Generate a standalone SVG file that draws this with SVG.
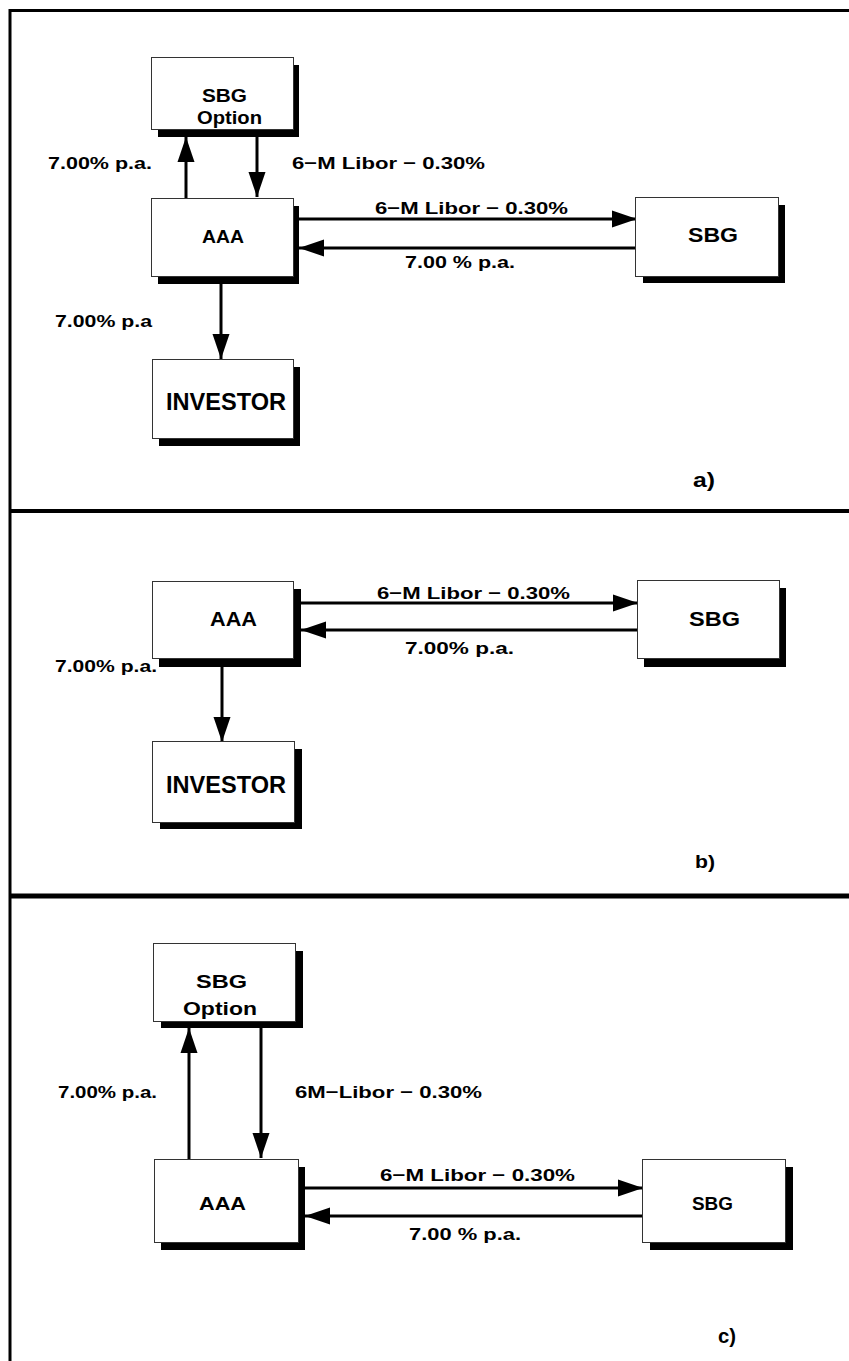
<svg xmlns="http://www.w3.org/2000/svg" width="849" height="1361" viewBox="0 0 849 1361">
<style>
.frame{stroke:#000;fill:none}
.box{fill:#fff;stroke:#333;stroke-width:1}
.sh{fill:#000}
.t{font-family:"Liberation Sans",Arial,Helvetica,sans-serif;font-weight:bold;fill:#000}
.lbl{font-size:17px}
.conn{stroke:#000;stroke-width:3;fill:none;marker-end:url(#ah)}
</style>
<defs>
<marker id="ah" markerUnits="userSpaceOnUse" markerWidth="26" markerHeight="20" viewBox="0 0 26 20" refX="25" refY="10" orient="auto">
<path d="M0,1.5 L25,10 L0,18.5 Z" fill="#000"/>
</marker>
</defs>
<rect width="849" height="1361" fill="#fff"/>
<g id="frame" class="frame">
<line x1="9" y1="10.5" x2="849" y2="10.5" stroke-width="3"/>
<line x1="10" y1="9" x2="10" y2="1361" stroke-width="3"/>
<line x1="9" y1="511" x2="849" y2="511" stroke-width="4"/>
<line x1="9" y1="896" x2="849" y2="896" stroke-width="5"/>
</g>
<g id="connectors">
<line class="conn" x1="186" y1="198" x2="186" y2="137"/>
<line class="conn" x1="257" y1="137" x2="257" y2="197"/>
<line class="conn" x1="299" y1="219" x2="637" y2="219"/>
<line class="conn" x1="635" y1="248" x2="299" y2="248"/>
<line class="conn" x1="221" y1="284" x2="221" y2="359"/>
<line class="conn" x1="301" y1="603" x2="638" y2="603"/>
<line class="conn" x1="637" y1="630" x2="301" y2="630"/>
<line class="conn" x1="222" y1="667" x2="222" y2="742"/>
<line class="conn" x1="189" y1="1159" x2="189" y2="1028"/>
<line class="conn" x1="261" y1="1028" x2="261" y2="1158"/>
<line class="conn" x1="305" y1="1188" x2="643" y2="1188"/>
<line class="conn" x1="642" y1="1216" x2="305" y2="1216"/>
</g>
<g id="labels" class="t lbl">
<text x="48" y="169" textLength="104" lengthAdjust="spacingAndGlyphs">7.00% p.a.</text>
<text x="292" y="169" textLength="193" lengthAdjust="spacingAndGlyphs">6−M Libor − 0.30%</text>
<text x="375" y="214" textLength="193" lengthAdjust="spacingAndGlyphs">6−M Libor − 0.30%</text>
<text x="405" y="268" textLength="110" lengthAdjust="spacingAndGlyphs">7.00 % p.a.</text>
<text x="55" y="327" textLength="97" lengthAdjust="spacingAndGlyphs">7.00% p.a</text>
<text x="693" y="487" font-size="21" textLength="22" lengthAdjust="spacingAndGlyphs">a)</text>
<text x="377" y="599" textLength="193" lengthAdjust="spacingAndGlyphs">6−M Libor − 0.30%</text>
<text x="405" y="654" textLength="109" lengthAdjust="spacingAndGlyphs">7.00% p.a.</text>
<text x="55" y="672" textLength="102" lengthAdjust="spacingAndGlyphs">7.00% p.a.</text>
<text x="695" y="868" font-size="19" textLength="20" lengthAdjust="spacingAndGlyphs">b)</text>
<text x="58" y="1098" textLength="99" lengthAdjust="spacingAndGlyphs">7.00% p.a.</text>
<text x="295" y="1098" textLength="187" lengthAdjust="spacingAndGlyphs">6M−Libor − 0.30%</text>
<text x="380" y="1181" textLength="195" lengthAdjust="spacingAndGlyphs">6−M Libor − 0.30%</text>
<text x="409" y="1240" textLength="112" lengthAdjust="spacingAndGlyphs">7.00 % p.a.</text>
<text x="718" y="1343" font-size="21" textLength="18" lengthAdjust="spacingAndGlyphs">c)</text>
</g>
<g id="a-sbg-option">
<rect class="sh" x="158" y="65" width="141" height="72"/>
<rect class="box" x="151.5" y="57.5" width="142" height="72"/>
<text class="t" x="202" y="102" font-size="18" textLength="45" lengthAdjust="spacingAndGlyphs">SBG</text>
<text class="t" x="197" y="124" font-size="18" textLength="65" lengthAdjust="spacingAndGlyphs">Option</text>
</g>
<g id="a-aaa">
<rect class="sh" x="158" y="206" width="141" height="78"/>
<rect class="box" x="151.5" y="198.5" width="142" height="78"/>
<text class="t" x="202" y="243" font-size="19" textLength="42" lengthAdjust="spacingAndGlyphs">AAA</text>
</g>
<g id="a-sbg">
<rect class="sh" x="643" y="205" width="142" height="78"/>
<rect class="box" x="635.5" y="197.5" width="143" height="79"/>
<text class="t" x="688" y="242" font-size="20" textLength="50" lengthAdjust="spacingAndGlyphs">SBG</text>
</g>
<g id="a-investor">
<rect class="sh" x="159" y="367" width="141" height="79"/>
<rect class="box" x="152.5" y="359.5" width="141" height="79"/>
<text class="t" x="166" y="410" font-size="24" textLength="120" lengthAdjust="spacingAndGlyphs">INVESTOR</text>
</g>
<g id="b-aaa">
<rect class="sh" x="159" y="589" width="142" height="78"/>
<rect class="box" x="152.5" y="581.5" width="141" height="77"/>
<text class="t" x="210" y="626" font-size="20" textLength="47" lengthAdjust="spacingAndGlyphs">AAA</text>
</g>
<g id="b-sbg">
<rect class="sh" x="644" y="588" width="142" height="79"/>
<rect class="box" x="637.5" y="580.5" width="142" height="78"/>
<text class="t" x="689" y="626" font-size="20" textLength="51" lengthAdjust="spacingAndGlyphs">SBG</text>
</g>
<g id="b-investor">
<rect class="sh" x="160" y="749" width="142" height="80"/>
<rect class="box" x="152.5" y="741.5" width="142" height="81"/>
<text class="t" x="166" y="793" font-size="24" textLength="120" lengthAdjust="spacingAndGlyphs">INVESTOR</text>
</g>
<g id="c-sbg-option">
<rect class="sh" x="161" y="951" width="142" height="77"/>
<rect class="box" x="153.5" y="943.5" width="142" height="78"/>
<text class="t" x="196" y="988" font-size="19" textLength="51" lengthAdjust="spacingAndGlyphs">SBG</text>
<text class="t" x="183" y="1015" font-size="19" textLength="74" lengthAdjust="spacingAndGlyphs">Option</text>
</g>
<g id="c-aaa">
<rect class="sh" x="161" y="1167" width="144" height="83"/>
<rect class="box" x="154.5" y="1159.5" width="144" height="83"/>
<text class="t" x="199" y="1210" font-size="19" textLength="47" lengthAdjust="spacingAndGlyphs">AAA</text>
</g>
<g id="c-sbg">
<rect class="sh" x="650" y="1167" width="143" height="83"/>
<rect class="box" x="642.5" y="1159.5" width="143" height="83"/>
<text class="t" x="692" y="1210" font-size="19" textLength="41" lengthAdjust="spacingAndGlyphs">SBG</text>
</g>
</svg>
